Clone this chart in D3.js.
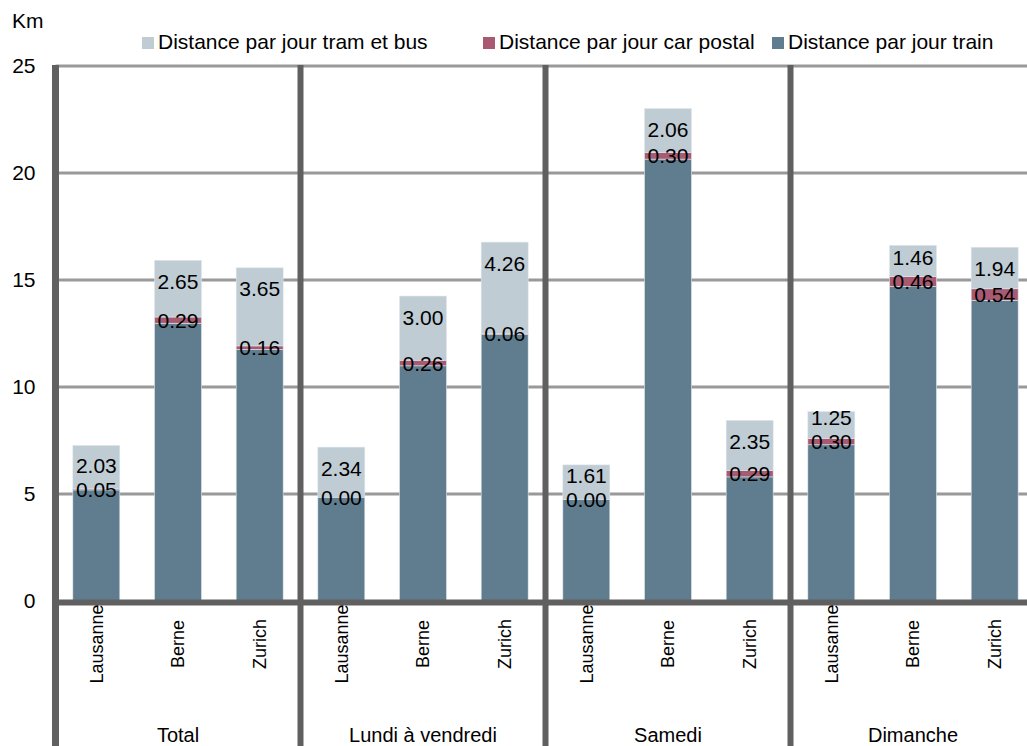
<!DOCTYPE html>
<html>
<head>
<meta charset="utf-8">
<script src="https://cdn.jsdelivr.net/npm/d3@7"></script>
<style>
  html, body { margin: 0; padding: 0; background: #fff; }
  svg { display: block; font-family: "Liberation Sans", Arial, sans-serif; }
</style>
</head>
<body>
<svg id="chart" width="1027" height="746"></svg>
<script>
// ---- data ----
const groups = ["Total", "Lundi à vendredi", "Samedi", "Dimanche"];
const cities = ["Lausanne", "Berne", "Zurich"];
const trainValues = [5.19, 12.98, 11.76, 4.85, 10.99, 12.45, 4.75, 20.65, 5.80, 7.30, 14.70, 14.05];
const carValues   = [0.05, 0.29, 0.16, 0.00, 0.26, 0.06, 0.00, 0.30, 0.29, 0.30, 0.46, 0.54];
const tramValues  = [2.03, 2.65, 3.65, 2.34, 3.00, 4.26, 1.61, 2.06, 2.35, 1.25, 1.46, 1.94];
const yTicks = [0, 5, 10, 15, 20, 25];
const seriesNames = ["Distance par jour train", "Distance par jour car postal", "Distance par jour tram et bus"];
const legendOrder = ["Distance par jour tram et bus", "Distance par jour car postal", "Distance par jour train"];
const unitLabel = "Km";

// ---- styles ----
const colors = {
  "Distance par jour train": "#5f7d8e",
  "Distance par jour car postal": "#a85a72",
  "Distance par jour tram et bus": "#bfccd4"
};
const axisColor = "#606060";
const gridColor = "#999999";

const svg = d3.select("#chart");

// table
const rows = [];
groups.forEach((g, gi) => cities.forEach((c, ci) => {
  const i = gi * cities.length + ci;
  rows.push({
    group: g, city: c,
    "Distance par jour train": trainValues[i],
    "Distance par jour car postal": carValues[i],
    "Distance par jour tram et bus": tramValues[i]
  });
}));
const stacked = d3.stack().keys(seriesNames)(rows);

// scales
const plotLeft = 55.5, groupW = 245;
const x0 = d3.scaleBand().domain(groups).range([plotLeft, plotLeft + groupW * groups.length]).padding(0);
const x1 = d3.scalePoint().domain(cities).range([0, x0.bandwidth()]).padding(0.5);
const barW = x0.bandwidth() / cities.length * 0.575;
const y = d3.scaleLinear().domain([0, 25]).range([601, 66]);
const bottom = 746;
const rightEdge = 1027;

// gridlines
svg.append("g").selectAll("line").data(yTicks.filter(t => t > 0)).join("line")
  .attr("x1", plotLeft).attr("x2", rightEdge)
  .attr("y1", d => y(d)).attr("y2", d => y(d))
  .attr("stroke", gridColor).attr("stroke-width", 3);

// y axis labels via d3 axis
const yAxis = svg.append("g").attr("transform", `translate(${plotLeft - 20},0)`)
  .call(d3.axisLeft(y).tickValues(yTicks).tickSize(0).tickPadding(0));
yAxis.select(".domain").remove();
yAxis.selectAll("text").attr("font-size", 21).attr("fill", "#000")
  .attr("font-family", "Liberation Sans, Arial, sans-serif");

// bars
const xc = d => x0(d.data.group) + x1(d.data.city);
svg.append("g").selectAll("g").data(stacked).join("g")
  .attr("fill", d => colors[d.key])
  .selectAll("rect").data(d => d).join("rect")
  .attr("x", d => xc(d) - barW / 2)
  .attr("width", barW)
  .attr("y", d => y(d[1]))
  .attr("height", d => Math.max(0, y(d[0]) - y(d[1])))
  .attr("stroke", "#dfe6ea").attr("stroke-width", 0.6);

// labels
const fmt = d3.format(".2f");
const carSeries = stacked.find(s => s.key === "Distance par jour car postal");
const tramSeries = stacked.find(s => s.key === "Distance par jour tram et bus");
const carY = d => (y(d[0]) + y(d[1])) / 2;
const labels = svg.append("g").attr("font-size", 21).attr("fill", "#000").attr("text-anchor", "middle");
labels.selectAll("text.car").data(carSeries).join("text").attr("class", "car")
  .attr("x", d => xc(d))
  .attr("y", d => carY(d))
  .attr("dy", "0.36em")
  .text(d => fmt(d.data["Distance par jour car postal"]));
labels.selectAll("text.tram").data(tramSeries).join("text").attr("class", "tram")
  .attr("x", d => xc(d))
  .attr("y", (d, i) => Math.min(y(d[1]) + 21, carY(carSeries[i]) - 24))
  .attr("dy", "0.36em")
  .text(d => fmt(d.data["Distance par jour tram et bus"]));

// baseline
svg.append("line").attr("x1", plotLeft).attr("x2", rightEdge)
  .attr("y1", y(0) + 1.5).attr("y2", y(0) + 1.5)
  .attr("stroke", axisColor).attr("stroke-width", 6);

// separators (left axis + between groups)
svg.append("g").selectAll("line").data(groups).join("line")
  .attr("x1", d => x0(d)).attr("x2", d => x0(d))
  .attr("y1", y(25) - 1).attr("y2", bottom)
  .attr("stroke", axisColor).attr("stroke-width", d => d === groups[0] ? 7 : 6);

// city labels (rotated)
svg.append("g").selectAll("text").data(rows).join("text")
  .attr("transform", d => `translate(${x0(d.group) + x1(d.city)},644) rotate(-90)`)
  .attr("text-anchor", "middle").attr("dy", "0.36em")
  .attr("font-size", 18).attr("fill", "#000")
  .text(d => d.city);

// group labels
svg.append("g").selectAll("text").data(groups).join("text")
  .attr("x", d => x0(d) + x0.bandwidth() / 2).attr("y", 742)
  .attr("text-anchor", "middle").attr("font-size", 20).attr("fill", "#000")
  .text(d => d);

// unit label
svg.append("text").attr("x", 12).attr("y", 28).attr("font-size", 21).attr("fill", "#000").text(unitLabel);

// legend
const legendX = [142, 483, 772];
const leg = svg.append("g").selectAll("g").data(legendOrder).join("g")
  .attr("transform", (d, i) => `translate(${legendX[i]},0)`);
leg.append("rect").attr("x", 0).attr("y", 37).attr("width", 12).attr("height", 12)
  .attr("fill", d => colors[d]);
leg.append("text").attr("x", 16).attr("y", 49).attr("font-size", 21).attr("fill", "#000").text(d => d);
</script>
</body>
</html>
